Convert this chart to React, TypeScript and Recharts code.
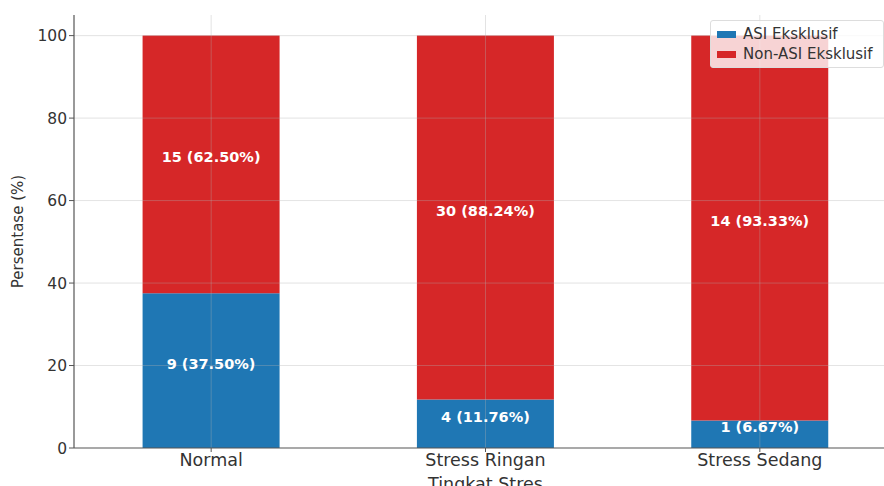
import React from "react";
import {
  BarChart,
  Bar,
  XAxis,
  YAxis,
  ReferenceLine,
  LabelList,
} from "recharts";

const categories = ["Normal", "Stress Ringan", "Stress Sedang"];
const asiCount = [9, 4, 1];
const nonAsiCount = [15, 30, 14];
const asiPct = [37.5, 11.76, 6.67];
const nonAsiPct = [62.5, 88.24, 93.33];
const yTicks = [0, 20, 40, 60, 80, 100];

const BLUE = "#1f77b4";
const RED = "#d62728";
const FONT = "'DejaVu Sans', sans-serif";

const data = categories.map((c, i) => ({
  name: c,
  asi: asiPct[i],
  nonAsi: nonAsiPct[i],
  asiLabel: `${asiCount[i]} (${asiPct[i].toFixed(2)}%)`,
  nonAsiLabel: `${nonAsiCount[i]} (${nonAsiPct[i].toFixed(2)}%)`,
}));

const legendItems = [
  { label: "ASI Eksklusif", color: BLUE },
  { label: "Non-ASI Eksklusif", color: RED },
];

const renderLabel = (props: any) => {
  const { x, y, width, height, value } = props;
  return (
    <text
      x={x + width / 2}
      y={y + height / 2}
      dy={-2}
      textAnchor="middle"
      fill="#ffffff"
      fontFamily={FONT}
      fontWeight="bold"
      fontSize={14.5}
    >
      {value}
    </text>
  );
};

const LegendBox = () => (
  <div
    style={{
      position: "absolute",
      left: 710,
      top: 20,
      background: "rgba(255,255,255,0.8)",
      border: "1px solid #dddddd",
      borderRadius: 3,
      padding: "3px 10px 3px 6px",
      fontFamily: FONT,
      fontSize: 15,
      color: "#333",
      lineHeight: "20px",
      whiteSpace: "nowrap",
    }}
  >
    {legendItems.map((e) => (
      <div key={e.label} style={{ display: "flex", alignItems: "center" }}>
        <span
          style={{
            display: "inline-block",
            width: 19,
            height: 7,
            background: e.color,
            marginRight: 7,
          }}
        />
        {e.label}
      </div>
    ))}
  </div>
);

export default function App() {
  return (
    <div
      style={{
        position: "absolute",
        left: 0,
        top: 0,
        width: 884,
        height: 486,
        overflow: "hidden",
        background: "#fff",
      }}
    >
      <BarChart
        width={900}
        height={486}
        data={data}
        margin={{ top: 15, right: 3, bottom: 0, left: 0 }}
        barCategoryGap="25%"
      >
        <XAxis
          dataKey="name"
          axisLine={{ stroke: "#555", strokeWidth: 1.2 }}
          tickLine={{ stroke: "#555" }}
          tickSize={4}
          tick={{ fill: "#333", fontSize: 17.5, fontFamily: FONT }}
          height={38}
          label={{
            value: "Tingkat Stres",
            position: "insideBottom",
            offset: -4,
            fill: "#333",
            fontSize: 17.5,
            fontFamily: FONT,
          }}
        />
        <YAxis
          domain={[0, 105]}
          ticks={yTicks}
          axisLine={{ stroke: "#555", strokeWidth: 1.2 }}
          tickLine={{ stroke: "#555" }}
          tickSize={5}
          tick={{ fill: "#333", fontSize: 15.5, fontFamily: FONT }}
          width={74}
          label={{
            value: "Persentase (%)",
            angle: -90,
            position: "insideLeft",
            offset: 18,
            fill: "#333",
            fontSize: 15,
            fontFamily: FONT,
            style: { textAnchor: "middle" },
          }}
        />
        <Bar dataKey="asi" stackId="a" fill={BLUE} isAnimationActive={false}>
          <LabelList dataKey="asiLabel" content={renderLabel} />
        </Bar>
        <Bar dataKey="nonAsi" stackId="a" fill={RED} isAnimationActive={false}>
          <LabelList dataKey="nonAsiLabel" content={renderLabel} />
        </Bar>
        {yTicks.slice(1).map((t) => (
          <ReferenceLine
            key={`y${t}`}
            y={t}
            stroke="#b0b0b0"
            strokeOpacity={0.35}
            strokeWidth={1}
          />
        ))}
        {categories.map((c) => (
          <ReferenceLine
            key={`x${c}`}
            x={c}
            stroke="#b0b0b0"
            strokeOpacity={0.35}
            strokeWidth={1}
          />
        ))}
      </BarChart>
      <LegendBox />
    </div>
  );
}
